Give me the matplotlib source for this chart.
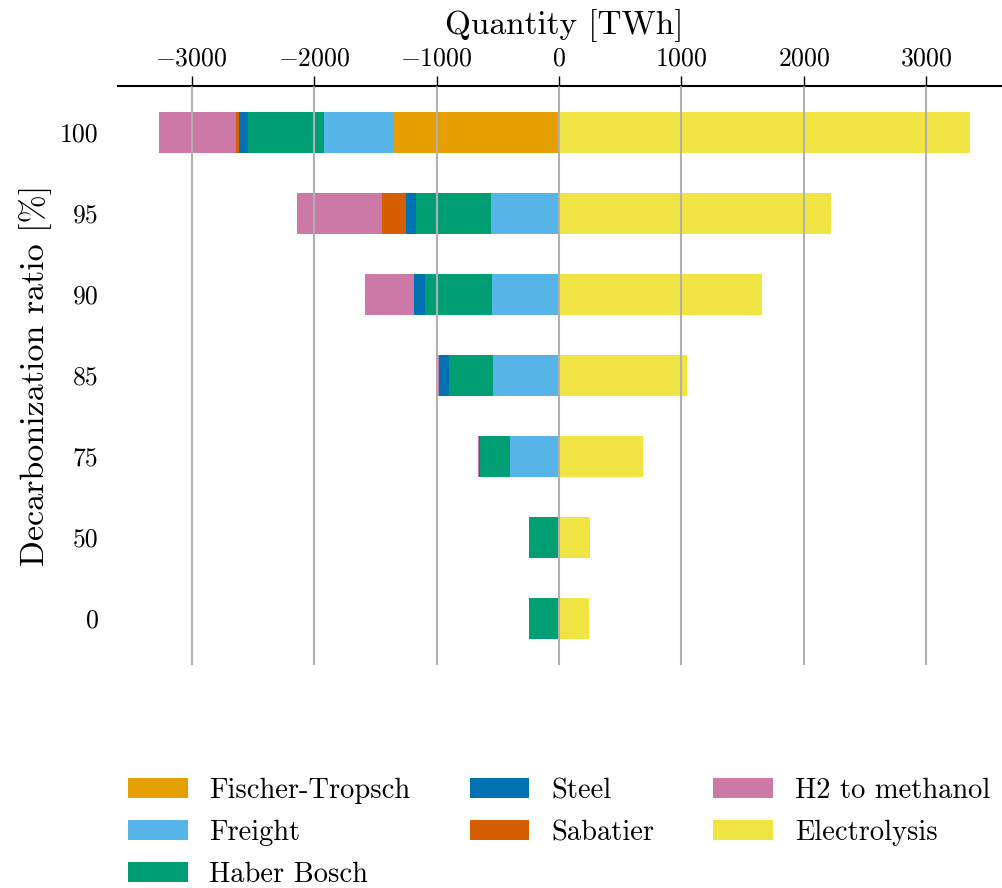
import matplotlib.pyplot as plt
import numpy as np

plt.rcParams['font.family'] = 'serif'
plt.rcParams['font.serif'] = ['cmr10']
plt.rcParams['mathtext.fontset'] = 'cm'
plt.rcParams['axes.formatter.use_mathtext'] = True

ratios = ['0', '50', '75', '85', '90', '95', '100']

# consumption (negative) and production (positive) in TWh
fischer_tropsch = [0, 0, 0, 0, 0, 0, -1343]
freight = [0, 0, -396, -535, -551, -559, -579]
haber_bosch = [-241, -241, -245, -359, -547, -612, -613]
steel = [0, 0, -12, -87, -82, -82, -81]
sabatier = [0, 0, 0, 0, 0, -188, -17]
h2_to_methanol = [-6, -6, -12, -5, -400, -694, -636]
electrolysis = [249, 257, 682, 1049, 1661, 2224, 3359]

series = [
    ('Fischer-Tropsch', fischer_tropsch, '#E69F00'),
    ('Freight', freight, '#56B4E9'),
    ('Haber Bosch', haber_bosch, '#009E73'),
    ('Steel', steel, '#0072B2'),
    ('Sabatier', sabatier, '#D55E00'),
    ('H2 to methanol', h2_to_methanol, '#CC79A7'),
    ('Electrolysis', electrolysis, '#F0E442'),
]

fig = plt.figure(figsize=(10.02, 8.88), dpi=100)
ax = fig.add_axes([118 / 1002, 1 - 665 / 888, 893 / 1002, 579 / 888])

pos = np.arange(len(ratios))
neg_base = np.zeros(len(ratios))
pos_base = np.zeros(len(ratios))
for name, vals, color in series:
    vals = np.array(vals, dtype=float)
    left = np.where(vals < 0, neg_base, pos_base)
    ax.barh(pos, vals, left=left, height=0.5, color=color, label=name)
    neg_base += np.minimum(vals, 0)
    pos_base += np.maximum(vals, 0)

ax.set_yticks(pos)
ax.set_yticklabels(ratios)
ax.set_xticks([-3000, -2000, -1000, 0, 1000, 2000, 3000])

ax.xaxis.tick_top()
ax.xaxis.set_label_position('top')
ax.set_xlabel('Quantity [TWh]', fontsize=24, labelpad=9)
ax.set_ylabel('Decarbonization ratio [%]', fontsize=24.5, labelpad=6)
ax.tick_params(axis='x', labelsize=18.5, length=7, width=1, direction='out', pad=4)
ax.tick_params(axis='y', labelsize=18.5, length=0, pad=14)

for side in ['left', 'right', 'bottom']:
    ax.spines[side].set_visible(False)
ax.spines['top'].set_linewidth(1.5)

ax.grid(axis='x', color='#b0b0b0', linewidth=1.5)
ax.set_axisbelow(False)

fig.legend(loc='center', bbox_to_anchor=(559 / 1002, 1 - 833 / 888), ncol=3,
           frameon=False, fontsize=20.5, handlelength=2.1, handleheight=0.7,
           handletextpad=0.77, columnspacing=2.07, labelspacing=0.55)

fig.savefig('out.png', dpi=100)
